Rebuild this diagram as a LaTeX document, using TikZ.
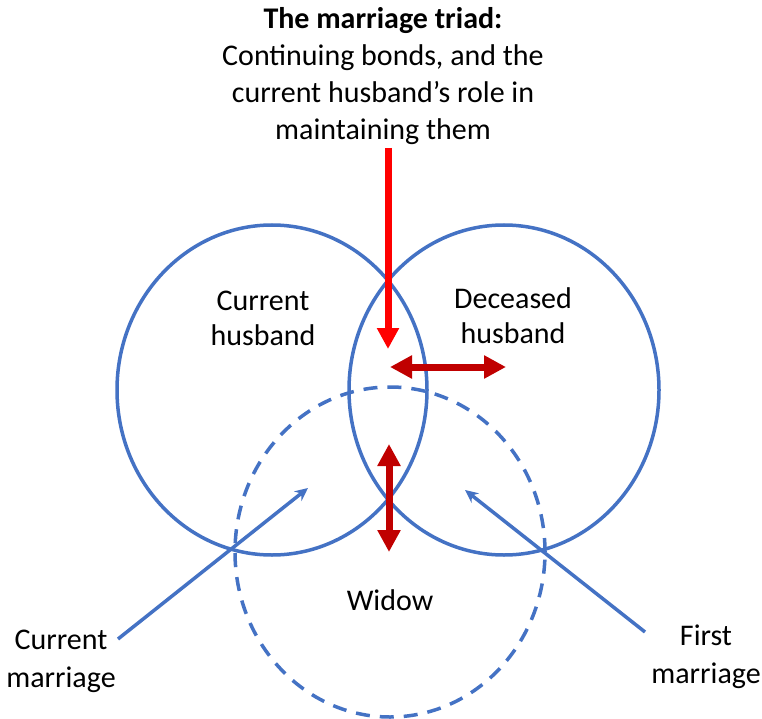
\documentclass[tikz,border=0pt]{standalone}
\usepackage{fontspec}
\setmainfont{Carlito}
\usetikzlibrary{arrows.meta,shapes.geometric}
\definecolor{cblue}{HTML}{4472C4}
\definecolor{dred}{HTML}{C00000}
\definecolor{bred}{HTML}{FF0000}
\begin{document}
\begin{tikzpicture}[x=1pt,y=-1pt,
  ring/.style={draw=cblue,line width=3.5pt,ellipse,minimum width=310pt,minimum height=330pt,inner sep=0pt},
  dashring/.style={ring,dash pattern=on 14pt off 10pt},
  lbl/.style={font=\fontsize{30}{37}\selectfont,align=center,inner sep=0pt},
  redarr/.style={draw=bred,line width=7pt,-{Triangle[width=21pt,length=21pt]}},
  darr/.style={draw=dred,line width=7pt,{Triangle[width=22pt,length=22pt]}-{Triangle[width=22pt,length=22pt]}},
  pointer/.style={draw=cblue,line width=3.5pt,-{Stealth[width=12pt,length=13pt]}}
]
\useasboundingbox (0,0) rectangle (762,719);
\node[ring] (curh) at (272,390) {};
\node[ring] (dech) at (504,390) {};
\node[dashring] (wid) at (390,552) {};

\node[lbl] (title) at (383,76) {\textbf{The marriage triad:}\\Continuing bonds, and the\\current husband’s role in\\maintaining them};
\node[lbl,font=\fontsize{30}{35}\selectfont] (lcur) at (263,318) {Current\\husband};
\node[lbl,font=\fontsize{30}{35}\selectfont] (ldec) at (513,316) {Deceased\\husband};
\node[lbl] (lwid) at (390,600) {Widow};
\node[lbl,font=\fontsize{30}{38}\selectfont] (lcm) at (61,661) {Current\\marriage};
\node[lbl,font=\fontsize{30}{38}\selectfont] (lfm) at (706,657) {First\\marriage};

\coordinate (rs) at (388,148);
\coordinate (re) at (388,349);
\draw[redarr] (rs) -- (re);

\coordinate (hl) at (390,367);
\coordinate (hr) at (506,367);
\draw[darr] (hl) -- (hr);

\coordinate (vt) at (389,444);
\coordinate (vb) at (389,552);
\draw[darr] (vt) -- (vb);

\coordinate (cms) at (118,639);
\coordinate (cme) at (308,488);
\draw[pointer] (cms) -- (cme);

\coordinate (fms) at (645,632);
\coordinate (fme) at (465,490);
\draw[pointer] (fms) -- (fme);
\end{tikzpicture}
\end{document}
